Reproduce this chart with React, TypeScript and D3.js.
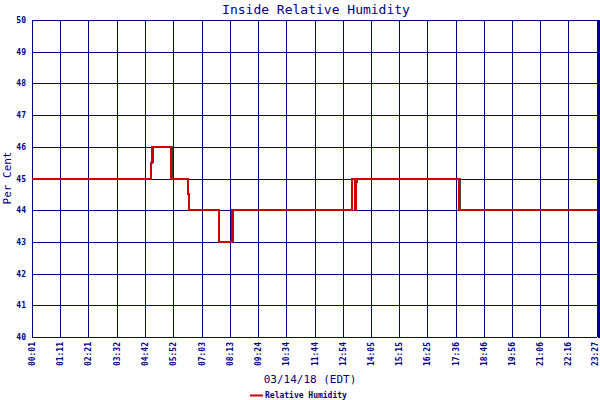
import { useEffect, useRef } from "react";
import * as d3 from "d3";

// step readings: minutes since midnight and the value from that time on
const stepMinutes = [1, 297, 300, 347, 389, 391, 466, 499, 797, 804, 807, 809, 1064, 1407];
const stepValues = [45, 45.5, 46, 45, 44.5, 44, 43, 44, 45, 44, 44.9, 45, 44, 44];

const tickLabels = [
  "00:01", "01:11", "02:21", "03:32", "04:42", "05:52", "07:03", "08:13", "09:24", "10:34",
  "11:44", "12:54", "14:05", "15:15", "16:25", "17:36", "18:46", "19:56", "21:06", "22:16", "23:27",
];
const yTicks = [40, 41, 42, 43, 44, 45, 46, 47, 48, 49, 50];

const NAVY = "#000080";
const FONT = "'DejaVu Sans Mono', monospace";

export default function App() {
  const svgRef = useRef<SVGSVGElement>(null);

  useEffect(() => {
    if (!svgRef.current) return;
    const svg = d3.select(svgRef.current);
    svg.selectAll("*").remove();

    const left = 32, right = 597, top = 20, bottom = 337;
    const toMin = (s: string) => +s.slice(0, 2) * 60 + +s.slice(3);

    const x = d3.scaleLinear().domain([1, 1407]).range([left, right]);
    const y = d3.scaleLinear().domain([40, 50]).range([bottom, top]);

    svg.append("rect").attr("width", 600).attr("height", 400).attr("fill", "#fff");

    // grid
    const g = svg.append("g").attr("shape-rendering", "crispEdges");
    g.selectAll("line.h")
      .data(yTicks)
      .enter()
      .append("line")
      .attr("x1", left)
      .attr("x2", right)
      .attr("y1", (d) => Math.round(y(d)) + 0.5)
      .attr("y2", (d) => Math.round(y(d)) + 0.5)
      .attr("stroke", NAVY)
      .attr("stroke-width", 1);
    g.selectAll("line.v")
      .data(tickLabels)
      .enter()
      .append("line")
      .attr("x1", (d) => Math.round(x(toMin(d))) + 0.5)
      .attr("x2", (d) => Math.round(x(toMin(d))) + 0.5)
      .attr("y1", top)
      .attr("y2", bottom)
      .attr("stroke", NAVY)
      .attr("stroke-width", 1);
    g.append("line")
      .attr("x1", right + 1.5).attr("x2", right + 1.5)
      .attr("y1", top).attr("y2", bottom + 1)
      .attr("stroke", NAVY).attr("stroke-width", 2);

    // y labels
    svg.selectAll("text.y")
      .data(yTicks)
      .enter()
      .append("text")
      .attr("x", 26)
      .attr("y", (d) => y(d) + 3)
      .attr("text-anchor", "end")
      .attr("font-family", FONT)
      .attr("font-size", 8)
      .attr("font-weight", "bold")
      .attr("fill", NAVY)
      .text((d) => d);

    // x labels, rotated
    svg.selectAll("text.x")
      .data(tickLabels)
      .enter()
      .append("text")
      .attr("transform", (d) => `translate(${Math.min(x(toMin(d)) + 3, 598)},342) rotate(-90)`)
      .attr("text-anchor", "end")
      .attr("font-family", FONT)
      .attr("font-size", 8)
      .attr("font-weight", "bold")
      .attr("fill", NAVY)
      .text((d) => d);

    // series
    const pts = stepMinutes.map((m, i) => [m, stepValues[i]] as [number, number]);
    const line = d3
      .line<[number, number]>()
      .x((d) => x(d[0]))
      .y((d) => y(d[1]))
      .curve(d3.curveStepAfter);
    svg.append("path")
      .datum(pts)
      .attr("d", line)
      .attr("transform", "translate(1,0)")
      .attr("fill", "none")
      .attr("stroke", "#404040")
      .attr("stroke-width", 1)
      .attr("shape-rendering", "crispEdges");
    svg.append("path")
      .datum(pts)
      .attr("d", line)
      .attr("fill", "none")
      .attr("stroke", "#cc0000")
      .attr("stroke-width", 2)
      .attr("shape-rendering", "crispEdges");

    // titles
    svg.append("text")
      .attr("x", 316).attr("y", 14)
      .attr("text-anchor", "middle")
      .attr("font-family", FONT).attr("font-size", 13)
      .attr("fill", NAVY)
      .text("Inside Relative Humidity");
    svg.append("text")
      .attr("transform", "translate(11,178) rotate(-90)")
      .attr("text-anchor", "middle")
      .attr("font-family", FONT).attr("font-size", 11)
      .attr("fill", NAVY)
      .text("Per Cent");
    svg.append("text")
      .attr("x", 310).attr("y", 383)
      .attr("text-anchor", "middle")
      .attr("font-family", FONT).attr("font-size", 11)
      .attr("fill", NAVY)
      .text("03/14/18 (EDT)");

    // legend
    svg.append("line")
      .attr("x1", 250).attr("x2", 263)
      .attr("y1", 395.5).attr("y2", 395.5)
      .attr("stroke", "#cc0000").attr("stroke-width", 2);
    svg.append("text")
      .attr("x", 265).attr("y", 398)
      .attr("font-family", FONT).attr("font-size", 8)
      .attr("font-weight", "bold")
      .attr("fill", NAVY)
      .text("Relative Humidity");
  }, []);

  return (
    <svg
      ref={svgRef}
      width={600}
      height={400}
      style={{ position: "absolute", left: 0, top: 0 }}
    />
  );
}
